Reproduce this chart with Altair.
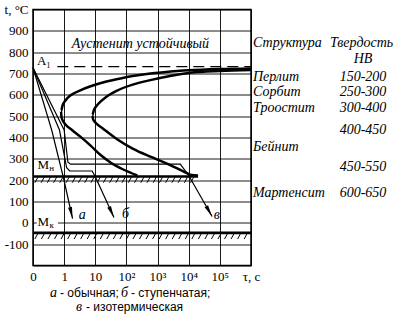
import json
import math
import altair as alt
import pandas as pd

# ---------------- data ----------------
y_ticks = list(range(-200, 1001, 100))
x_ticks = list(range(0, 8))
x_tick_labels = ["0", "1", "10", "10²", "10³", "10⁴", "10⁵", "τ, с"]

A1_TEMP = 732
MS_TEMP = 217
MK_TEMP = -47
MS_END = 5.3

# start of transformation (C-curve 1)
start_x = [7.0, 6.0, 5.0, 4.2, 3.77, 3.2, 2.81, 2.3, 1.85, 1.5, 1.21, 1.05, 0.95, 0.90,
           0.91, 0.96, 1.05, 1.25, 1.53, 1.85, 2.17, 2.5, 2.9, 3.35]
start_t = [724, 721, 715, 706, 700, 688, 677, 660, 640, 620, 598, 575, 550, 525,
           500, 478, 460, 435, 403, 362, 318, 282, 250, 222]

# end of transformation (C-curve 2)
finish_x = [7.0, 6.0, 5.05, 4.4, 3.77, 3.2, 2.7, 2.35, 2.1, 1.96, 1.9, 1.93, 2.02,
            2.28, 2.7, 3.2, 3.77, 4.3, 4.84, 5.05, 5.3]
finish_t = [716, 712, 704, 688, 669, 648, 620, 590, 558, 530, 505, 485, 468,
            438, 392, 348, 310, 278, 240, 226, 222]

# cooling paths
a_x = [0, 0.6, 0.97, 1.27]
a_t = [727, 435, 216, 20]
b_x = [0, 0.85, 1.08, 1.18, 1.9, 2.0, 2.6]
b_t = [727, 435, 258, 243, 243, 216, 25]
v_x = [0, 1.0, 1.12, 1.2, 4.73, 5.0, 5.75]
v_t = [727, 435, 285, 275, 275, 222, 30]

path_names = ["а", "б", "в"]
path_label_x = [1.58, 2.97, 5.9]
path_label_t = [36, 40, 36]

struct_names = ["Перлит", "Сорбит", "Троостит", "Бейнит", "Мартенсит"]
struct_t = [682, 614, 536, 356, 138]
hard_values = ["150-200", "250-300", "300-400", "400-450", "450-550", "600-650"]
hard_t = [682, 614, 536, 435, 263, 138]

# ---------------- layout ----------------
W, H = 218, 256
PAD = {"left": 33, "top": 9.5, "right": 402 - 33 - W, "bottom": 320 - 9.5 - H}
XS = alt.Scale(domain=[0, 7], nice=False, zero=False)
YS = alt.Scale(domain=[-200, 1000], nice=False, zero=False)
SERIF = "Liberation Serif"
SANS = "Liberation Sans"
px_per_x = W / 7
px_per_t = H / 1200

# ---------------- tables ----------------
rows = []
for sid, xs, ts in [("start", start_x, start_t), ("finish", finish_x, finish_t)]:
    for i, (xx, tt) in enumerate(zip(xs, ts)):
        rows.append({"id": sid, "ord": i, "x": xx, "t": tt})
thick_df = pd.DataFrame(rows)

rows = []
heads = []
for sid, xs, ts in [("а", a_x, a_t), ("б", b_x, b_t), ("в", v_x, v_t)]:
    for i, (xx, tt) in enumerate(zip(xs, ts)):
        rows.append({"id": sid, "ord": i, "x": xx, "t": tt})
    dx = (xs[-1] - xs[-2]) * px_per_x
    dy = (ts[-2] - ts[-1]) * px_per_t
    ang = math.degrees(math.atan2(dx, dy))
    heads.append({"x": xs[-1], "t": ts[-1], "angle": 360 - ang})
thin_df = pd.DataFrame(rows)
head_df = pd.DataFrame(heads)

ms_hatch = pd.DataFrame([{"x": 0.06 + 0.2 * i, "x2": 0.16 + 0.2 * i, "y": 188, "y2": 214}
                         for i in range(int((MS_END - 0.2) / 0.2) + 1)])
mk_hatch = pd.DataFrame([{"x": 0.06 + 0.21 * i, "x2": 0.16 + 0.21 * i, "y": -76, "y2": -49}
                         for i in range(33)])

hlines = pd.DataFrame([
    {"x": 0, "x2": MS_END, "y": MS_TEMP},
    {"x": 0, "x2": 7, "y": MK_TEMP},
])

x_expr = json.dumps(x_tick_labels) + "[datum.value]"
y_expr = "datum.value == 1000 ? 't, °C' : (datum.value == -200 ? '' : '' + datum.value)"

AX = alt.Axis(values=x_ticks, labelExpr=x_expr, grid=True, labelFlush=False,
              labelOverlap=False, labelPadding=5, domain=False, ticks=False,
              gridColor="black", gridOpacity=1, gridWidth=0.9, title=None)
AY = alt.Axis(values=y_ticks, labelExpr=y_expr, grid=True,
              labelOverlap=False, labelPadding=5, domain=False, ticks=False,
              gridColor="black", gridOpacity=1, gridWidth=0.9, title=None)


def X(f="x"):
    return alt.X(f"{f}:Q", scale=XS, axis=AX, title=None)


def Y(f="t"):
    return alt.Y(f"{f}:Q", scale=YS, axis=AY, title=None)


mk_bg = alt.Chart(pd.DataFrame({"x": [0.12], "x2": [0.8], "y": [-11], "y2": [14]})).mark_rect(
    color="white").encode(x=X(), x2="x2:Q", y=Y("y"), y2="y2:Q")

a1_line = alt.Chart(pd.DataFrame({"x": [0.78], "x2": [7], "y": [A1_TEMP]})).mark_rule(
    color="black", strokeWidth=1.3, strokeDash=[11, 6]).encode(
    x=X(), x2="x2:Q", y=Y("y"))

h_rules = alt.Chart(hlines).mark_rule(color="black", strokeWidth=2.6).encode(
    x=X(), x2="x2:Q", y=Y("y"))

hatch1 = alt.Chart(ms_hatch).mark_rule(color="black", strokeWidth=1).encode(
    x=X(), x2="x2:Q", y=Y("y"), y2="y2:Q")
hatch2 = alt.Chart(mk_hatch).mark_rule(color="black", strokeWidth=1).encode(
    x=X(), x2="x2:Q", y=Y("y"), y2="y2:Q")

thick = alt.Chart(thick_df).mark_line(color="black", strokeWidth=2.5, interpolate="monotone").encode(
    x=X(), y=Y(), detail="id:N", order="ord:Q")
thin = alt.Chart(thin_df).mark_line(color="black", strokeWidth=1.2).encode(
    x=X(), y=Y(), detail="id:N", order="ord:Q")

heads_l = alt.Chart(head_df).mark_point(
    shape="M0,0L-0.33,-1.9L0.33,-1.9Z", filled=True, color="black", size=150, opacity=1
).encode(x=X(), y=Y(), angle=alt.Angle("angle:Q", scale=None))


def txt(df, **kw):
    return alt.Chart(df).mark_text(color="black", **kw)


path_lbl = txt(pd.DataFrame({"x": path_label_x, "t": path_label_t, "s": path_names}),
               font=SERIF, fontStyle="italic", fontSize=14).encode(x=X(), y=Y(), text="s:N")

austen = txt(pd.DataFrame({"x": [3.45], "t": [837], "s": ["Аустенит устойчивый"]}),
             font=SERIF, fontStyle="italic", fontSize=14).encode(x=X(), y=Y(), text="s:N")

a1_lbl = txt(pd.DataFrame({"x": [0.35], "t": [757], "s": ["A₁"]}),
             font=SERIF, fontSize=13).encode(x=X(), y=Y(), text="s:N")

m_main = txt(pd.DataFrame({"x": [0.33, 0.33], "t": [271, 2], "s": ["M", "M"]}),
             font=SERIF, fontSize=13).encode(x=X(), y=Y(), text="s:N")
m_sub = txt(pd.DataFrame({"x": [0.6, 0.6], "t": [258, -11], "s": ["н", "к"]}),
            font=SERIF, fontSize=9).encode(x=X(), y=Y(), text="s:N")

struct_l = txt(pd.DataFrame({"t": struct_t, "s": struct_names}),
               font=SERIF, fontStyle="italic", fontSize=14, align="left").encode(
    x=alt.value(220), y=Y(), text="s:N")
hard_l = txt(pd.DataFrame({"t": hard_t, "s": hard_values}),
             font=SERIF, fontStyle="italic", fontSize=14, align="center").encode(
    x=alt.value(330), y=Y(), text="s:N")
head_l = txt(pd.DataFrame({"xp": [220, 297], "t": [842, 842],
                           "s": ["Структура", "Твердость"]}),
             font=SERIF, fontStyle="italic", fontSize=14, align="left").encode(
    x=alt.X("xp:Q", scale=None), y=Y(), text="s:N")
hb_l = txt(pd.DataFrame({"t": [770], "s": ["НВ"]}),
           font=SERIF, fontStyle="italic", fontSize=14, align="center").encode(
    x=alt.value(330), y=Y(), text="s:N")

# caption under the chart
cap_italic = txt(pd.DataFrame({"xp": [17, 88, 43], "yp": [283, 283, 297], "s": ["а", "б", "в"]}),
                 font=SERIF, fontStyle="italic", fontSize=14, align="left").encode(
    x=alt.X("xp:Q", scale=None), y=alt.Y("yp:Q", scale=None), text="s:N")
cap_plain = txt(pd.DataFrame({"xp": [27, 98, 53], "yp": [283, 283, 297],
                              "s": ["- обычная;", "- ступенчатая;", "- изотермическая"]}),
                font=SANS, fontSize=12, align="left").encode(
    x=alt.X("xp:Q", scale=None), y=alt.Y("yp:Q", scale=None), text="s:N")

chart = alt.layer(
    mk_bg, a1_line, hatch1, hatch2, h_rules, thick, thin, heads_l,
    path_lbl, austen, a1_lbl, m_main, m_sub, struct_l, hard_l, head_l, hb_l,
    cap_italic, cap_plain
).properties(
    width=W, height=H, padding=PAD, autosize=alt.AutoSizeParams(type="none"),
    background="white",
).configure_axis(
    labelFont=SERIF, labelFontSize=13, labelColor="black",
).configure_view(stroke="black", strokeWidth=1.5)

chart.save("out.html", embed_options={"renderer": "svg", "actions": False})
